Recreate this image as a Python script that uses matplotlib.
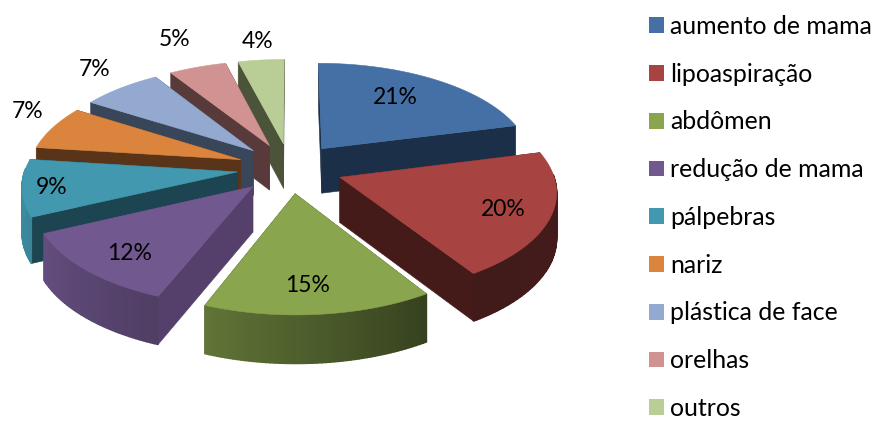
import numpy as np
import matplotlib
matplotlib.use("Agg")
import matplotlib.pyplot as plt
from matplotlib.colors import to_rgb
from matplotlib.patches import Patch, Polygon

plt.rcParams["font.family"] = ["Lato", "DejaVu Sans"]

# Survey shares by procedure
categories = ["aumento de mama", "lipoaspiração", "abdômen", "redução de mama",
              "pálpebras", "nariz", "plástica de face", "orelhas", "outros"]
shares = [21, 20, 15, 12, 9, 7, 7, 5, 4]

top_colors = ["#4470a6", "#a74442", "#89a54e", "#71588f", "#4198af",
              "#db843d", "#93a9cf", "#d19392", "#b9cd96"]
wall_colors = ["#1c2f48", "#451b1a", "#36411e", "#54406a", "#1c4551",
               "#5a3418", "#39465a", "#573a39", "#4b5439"]

# Centre of each percentage label on the canvas
label_pos = [(395, 98), (503, 210), (308, 285), (130, 253), (52, 188),
             (28, 112), (95, 70), (175, 40), (258, 42)]

# Painter's order: far slices first, nearest last
draw_order = [0, 8, 7, 6, 5, 4, 1, 2, 3]

# Projection of the pie plane onto the canvas
CX, CY, RX, RY, PERSP, DEPTH, EXPLODE = 290, 168, 212, 100, 0.12, 45, 0.25

RIM_THETA = [75, 147, 201, 244, 277, 360]
RIM_SHADE = [0.40, 0.39, 0.70, 0.88, 0.93, 0.93]


def project(u, v, lower=False):
    u, v = np.asarray(u, float), np.asarray(v, float)
    w = 1 + PERSP * v
    y = CY - RY * v / w
    if lower:
        y = y + DEPTH / (1 + 0.5 * PERSP * v)
    return np.column_stack([CX + RX * u / w, y])


def side_face(ax, us, vs, color, z, lw=0.4):
    top = project(us, vs)
    bottom = project(us, vs, lower=True)
    poly = np.vstack([top, bottom[::-1]])
    ax.add_patch(Polygon(poly, closed=True, facecolor=color, edgecolor=color,
                         linewidth=lw, zorder=z))


fig = plt.figure(figsize=(8.76, 4.21), dpi=100)
ax = fig.add_axes([0, 0, 1, 1])
ax.set_xlim(0, 876)
ax.set_ylim(421, 0)
ax.axis("off")

fractions = np.array(shares, float) / sum(shares)
edges = np.concatenate([[0], np.cumsum(fractions)]) * 2 * np.pi

for rank, i in enumerate(draw_order):
    base = 10 * (rank + 1)
    t0, t1 = edges[i], edges[i + 1]
    mid = (t0 + t1) / 2
    ou, ov = EXPLODE * np.sin(mid), EXPLODE * np.cos(mid)
    theta = np.linspace(t0, t1, max(int((t1 - t0) * 60), 8))
    rim_u, rim_v = ou + np.sin(theta), ov + np.cos(theta)

    # Radial walls, farther one first
    faces = [([ou, rim_u[0]], [ov, rim_v[0]]), ([ou, rim_u[-1]], [ov, rim_v[-1]])]
    faces.sort(key=lambda f: -np.mean(f[1]))
    for f in faces:
        side_face(ax, f[0], f[1], wall_colors[i], base)

    # Curved rim: only the part facing the viewer, shaded by its direction
    rgb = np.array(to_rgb(top_colors[i]))
    for a in range(len(theta) - 1):
        angle = (theta[a] + theta[a + 1]) / 2
        if np.cos(angle) > 0.03:
            continue
        shade = np.interp(np.degrees(angle), RIM_THETA, RIM_SHADE)
        side_face(ax, rim_u[a:a + 2], rim_v[a:a + 2], tuple(rgb * shade), base + 1, lw=1.0)

    # Top surface
    outline = project(np.r_[ou, rim_u], np.r_[ov, rim_v])
    ax.add_patch(Polygon(outline, closed=True, facecolor=top_colors[i],
                         edgecolor=top_colors[i], linewidth=0.4, zorder=base + 2))

for share, (x, y) in zip(shares, label_pos):
    ax.text(x, y, f"{share}%", ha="center", va="center", fontsize=16.5,
            color="#000000", zorder=200)

handles = [Patch(facecolor=c, edgecolor="none") for c in top_colors]
ax.legend(handles, categories, loc="upper left", bbox_to_anchor=(649 / 876, 1 - 15 / 421),
          frameon=False, fontsize=17.9, labelspacing=0.995, handlelength=0.6,
          handleheight=0.6, handletextpad=0.24, borderpad=0, borderaxespad=0,
          labelcolor="#000000")

fig.savefig("out.png", dpi=100, facecolor="white")
